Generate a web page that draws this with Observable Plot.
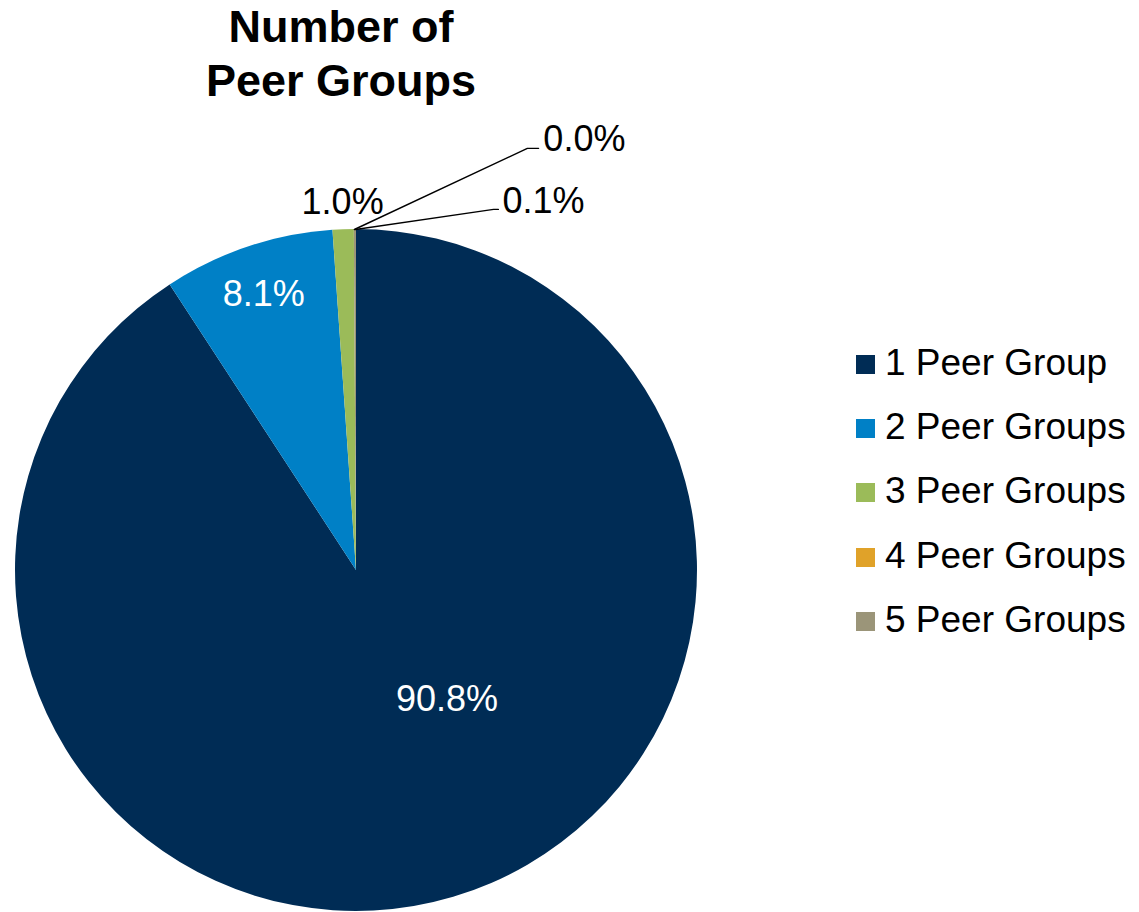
<!DOCTYPE html>
<html><head><meta charset="utf-8">
<script src="https://cdn.jsdelivr.net/npm/d3@7"></script>
<script src="https://cdn.jsdelivr.net/npm/@observablehq/plot@0.6"></script>
<style>
body{margin:0;background:#fff;font-family:"Liberation Sans",Arial,sans-serif;}
#wrap{position:relative;width:1139px;height:912px;overflow:hidden;background:#fff;}
#chart{position:absolute;left:0;top:0;}
#title{position:absolute;left:0;top:0;width:682px;text-align:center;font-weight:bold;font-size:45px;line-height:54px;color:#000;}
#legend{position:absolute;left:856px;top:331px;}
.row{display:flex;align-items:flex-start;height:64.2px;font-size:37px;line-height:64px;color:#000;white-space:nowrap;}
.sw{width:19px;height:19px;margin-top:24px;margin-right:10px;flex:none;}
</style></head>
<body>
<div id="wrap">
  <div id="chart"></div>
  <div id="title">Number of<br>Peer Groups</div>
  <div id="legend"></div>
</div>
<script>
// ---- data ----
const categories = ["1 Peer Group", "2 Peer Groups", "3 Peer Groups", "4 Peer Groups", "5 Peer Groups"];
const shares = [90.8, 8.1, 1.0, 0.0, 0.1];
const shareLabels = ["90.8%", "8.1%", "1.0%", "0.0%", "0.1%"];

// ---- palette ----
const palette = ["#002C55", "#0080C6", "#9BBB59", "#E0A229", "#9B9579"];
const color = d3.scaleOrdinal(categories, palette);

const rows = categories.map((c, i) => ({category: c, share: shares[i], label: shareLabels[i]}));
const arcs = d3.pie().sort(null).value(d => d.share)(rows);

// label placement rules (Excel-like)
const deg = Math.PI / 180;
const placement = {
  "1 Peer Group":  {kind: "inside", radius: 0.462, angle: 144.9 * deg},
  "2 Peer Groups": {kind: "inside", radius: 0.855},
  "3 Peer Groups": {kind: "outside", radius: 1.08},
  "4 Peer Groups": {kind: "leader", elbow: [0.501, 1.238], end: 0.534, text: [0.548, 1.264]},
  "5 Peer Groups": {kind: "leader", elbow: [0.402, 1.059], end: 0.416, text: [0.428, 1.082]}
};

const centered = [], leaderText = [], leaderPts = [];
for (const a of arcs) {
  const p = placement[a.data.category];
  const mid = (a.startAngle + a.endAngle) / 2;
  if (p.kind === "leader") {
    leaderPts.push({category: a.data.category, x: Math.sin(mid), y: Math.cos(mid)});
    leaderPts.push({category: a.data.category, x: p.elbow[0], y: p.elbow[1]});
    leaderPts.push({category: a.data.category, x: p.end, y: p.elbow[1]});
    leaderText.push({label: a.data.label, x: p.text[0], y: p.text[1]});
  } else {
    const ang = p.angle ?? mid;
    centered.push({label: a.data.label, x: p.radius * Math.sin(ang), y: p.radius * Math.cos(ang),
      fill: p.kind === "inside" ? "white" : "black"});
  }
}

// pie slices drawn through Plot's x/y scales
const sliceMark = (index, scales) => {
  const cx = scales.x(0), cy = scales.y(0);
  const R = scales.x(1) - cx;
  const arc = d3.arc().innerRadius(0).outerRadius(R);
  const g = d3.create("svg:g").attr("transform", `translate(${cx},${cy})`);
  g.selectAll("path").data(arcs).join("path")
    .attr("d", arc)
    .attr("fill", d => color(d.data.category));
  return g.node();
};

const chart = Plot.plot({
  width: 1139,
  height: 912,
  margin: 0,
  x: {domain: [-1, 1], range: [15, 697], axis: null},
  y: {domain: [-1, 1], range: [911, 229], axis: null},
  style: {fontFamily: '"Liberation Sans", Arial, sans-serif', background: "transparent", overflow: "visible"},
  marks: [
    sliceMark,
    Plot.line(leaderPts, {x: "x", y: "y", z: "category", stroke: "black", strokeWidth: 1.4}),
    Plot.text(centered, {x: "x", y: "y", text: "label", fill: "fill", fontSize: 36, textAnchor: "middle"}),
    Plot.text(leaderText, {x: "x", y: "y", text: "label", fill: "black", fontSize: 36, textAnchor: "start"})
  ]
});
document.getElementById("chart").append(chart);

// legend
const legend = d3.select("#legend");
categories.forEach(c => {
  const r = legend.append("div").attr("class", "row");
  r.append("div").attr("class", "sw").style("background", color(c));
  r.append("span").text(c);
});
</script>
</body></html>
